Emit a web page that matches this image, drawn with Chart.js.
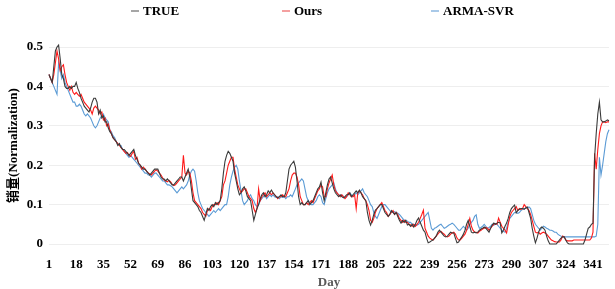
<!DOCTYPE html>
<html>
<head>
<meta charset="utf-8">
<script src="https://cdn.jsdelivr.net/npm/chart.js@4.4.1/dist/chart.umd.min.js"></script>
<style>
  html, body { margin: 0; padding: 0; background: #fff; }
  #wrap { width: 615px; height: 289px; }
</style>
</head>
<body>
<div id="wrap"><canvas id="salesChart"></canvas></div>
<script>
// x axis: day index, labels shown every 17 days
const dayTicks = [1, 18, 35, 52, 69, 86, 103, 120, 137, 154, 171, 188, 205, 222, 239, 256, 273, 290, 307, 324, 341];
const yTicks = [0, 0.1, 0.2, 0.3, 0.4, 0.5];

const trueVals = [
  0.43,0.42,0.41,0.45,0.49,0.50,0.505,0.47,0.43,0.42,
  0.40,0.395,0.395,0.40,0.395,0.40,0.40,0.41,0.395,0.385,
  0.37,0.36,0.35,0.345,0.34,0.335,0.345,0.36,0.37,0.37,
  0.36,0.33,0.34,0.32,0.325,0.31,0.31,0.295,0.285,0.28,
  0.27,0.265,0.26,0.25,0.255,0.245,0.24,0.24,0.235,0.23,
  0.225,0.23,0.235,0.24,0.225,0.215,0.205,0.20,0.195,0.19,
  0.19,0.185,0.18,0.175,0.18,0.185,0.19,0.19,0.19,0.18,
  0.17,0.165,0.165,0.16,0.165,0.16,0.155,0.15,0.15,0.155,
  0.16,0.165,0.17,0.17,0.16,0.17,0.18,0.19,0.17,0.14,
  0.11,0.105,0.10,0.095,0.085,0.08,0.07,0.06,0.075,0.09,
  0.085,0.095,0.10,0.095,0.105,0.10,0.105,0.11,0.14,0.18,
  0.21,0.225,0.235,0.23,0.22,0.21,0.18,0.16,0.14,0.125,
  0.13,0.14,0.145,0.135,0.12,0.115,0.11,0.085,0.06,0.075,
  0.09,0.10,0.115,0.125,0.13,0.12,0.125,0.135,0.13,0.137,
  0.13,0.125,0.12,0.117,0.12,0.125,0.12,0.12,0.13,0.16,
  0.19,0.20,0.205,0.21,0.195,0.16,0.12,0.10,0.105,0.10,
  0.10,0.105,0.11,0.10,0.105,0.11,0.12,0.13,0.14,0.145,
  0.157,0.13,0.11,0.13,0.15,0.165,0.17,0.155,0.14,0.13,
  0.125,0.12,0.125,0.12,0.117,0.12,0.125,0.125,0.13,0.12,
  0.125,0.13,0.135,0.13,0.137,0.13,0.12,0.115,0.11,0.08,
  0.06,0.048,0.06,0.075,0.086,0.09,0.095,0.10,0.10,0.09,
  0.08,0.075,0.07,0.075,0.085,0.08,0.075,0.08,0.07,0.06,
  0.053,0.06,0.055,0.06,0.048,0.05,0.045,0.05,0.043,0.05,
  0.06,0.066,0.055,0.045,0.035,0.03,0.015,0.003,0.005,0.008,
  0.01,0.015,0.02,0.03,0.035,0.03,0.025,0.02,0.018,0.02,
  0.025,0.03,0.028,0.028,0.015,0.003,0.005,0.012,0.018,0.025,
  0.035,0.05,0.06,0.045,0.03,0.028,0.03,0.028,0.03,0.035,
  0.038,0.04,0.043,0.04,0.035,0.03,0.04,0.048,0.053,0.05,
  0.053,0.055,0.053,0.028,0.035,0.045,0.053,0.065,0.08,0.09,
  0.095,0.099,0.079,0.085,0.088,0.09,0.09,0.088,0.092,0.094,
  0.08,0.066,0.04,0.02,0.003,0.015,0.03,0.04,0.043,0.04,
  0.035,0.02,0.008,0,0,0,0,0,0.005,0.01,
  0.015,0.018,0.018,0.01,0.003,0,0,0,0,0,
  0,0,0,0,0,0.01,0.025,0.04,0.043,0.05,
  0.053,0.22,0.28,0.33,0.36,0.315,0.31,0.31,0.312,0.315,0.313
];

const oursVals = [
  0.43,0.42,0.41,0.43,0.46,0.49,0.47,0.44,0.45,0.455,
  0.43,0.41,0.40,0.39,0.40,0.385,0.38,0.385,0.38,0.375,
  0.38,0.37,0.36,0.355,0.35,0.345,0.34,0.33,0.345,0.35,
  0.345,0.34,0.33,0.335,0.315,0.32,0.30,0.305,0.29,0.28,
  0.27,0.265,0.26,0.255,0.25,0.245,0.24,0.235,0.23,0.232,
  0.225,0.222,0.23,0.235,0.215,0.22,0.205,0.20,0.19,0.195,
  0.19,0.185,0.18,0.178,0.175,0.18,0.185,0.188,0.185,0.18,
  0.175,0.168,0.162,0.16,0.158,0.162,0.158,0.152,0.148,0.15,
  0.155,0.16,0.165,0.17,0.225,0.18,0.175,0.185,0.18,0.16,
  0.13,0.11,0.105,0.10,0.095,0.09,0.08,0.075,0.07,0.085,
  0.09,0.085,0.095,0.10,0.10,0.105,0.10,0.11,0.12,0.15,
  0.16,0.18,0.20,0.21,0.22,0.22,0.19,0.17,0.15,0.14,
  0.13,0.135,0.14,0.14,0.13,0.12,0.115,0.11,0.09,0.08,
  0.09,0.14,0.11,0.12,0.125,0.13,0.12,0.125,0.13,0.125,
  0.13,0.125,0.12,0.115,0.12,0.12,0.125,0.12,0.12,0.13,
  0.14,0.16,0.175,0.18,0.18,0.17,0.15,0.12,0.11,0.10,
  0.10,0.105,0.10,0.105,0.11,0.105,0.115,0.125,0.135,0.14,
  0.15,0.145,0.12,0.12,0.14,0.155,0.165,0.175,0.15,0.135,
  0.13,0.125,0.12,0.125,0.12,0.115,0.12,0.13,0.125,0.12,
  0.12,0.125,0.09,0.13,0.135,0.13,0.125,0.115,0.11,0.10,
  0.085,0.06,0.055,0.065,0.08,0.09,0.095,0.10,0.105,0.095,
  0.085,0.08,0.07,0.075,0.08,0.085,0.075,0.08,0.075,0.065,
  0.06,0.055,0.06,0.055,0.055,0.05,0.048,0.045,0.05,0.045,
  0.05,0.055,0.065,0.075,0.086,0.04,0.03,0.02,0.015,0.012,
  0.01,0.015,0.02,0.025,0.03,0.032,0.028,0.025,0.02,0.018,
  0.02,0.025,0.028,0.03,0.025,0.015,0.01,0.01,0.015,0.02,
  0.025,0.035,0.05,0.065,0.045,0.035,0.03,0.03,0.028,0.032,
  0.035,0.038,0.04,0.042,0.04,0.035,0.04,0.045,0.05,0.052,
  0.05,0.066,0.055,0.045,0.04,0.035,0.028,0.05,0.07,0.08,
  0.085,0.09,0.095,0.085,0.09,0.088,0.09,0.10,0.095,0.09,
  0.085,0.075,0.06,0.045,0.03,0.028,0.03,0.025,0.028,0.03,
  0.028,0.025,0.02,0.015,0.01,0.008,0.006,0.005,0.005,0.005,
  0.01,0.02,0.018,0.01,0.008,0.008,0.008,0.008,0.01,0.01,
  0.01,0.01,0.01,0.01,0.01,0.01,0.01,0.01,0.01,0.015,
  0.03,0.23,0.19,0.24,0.28,0.30,0.31,0.31,0.308,0.31,0.31
];

const armaVals = [
  0.43,0.42,0.41,0.40,0.39,0.38,0.46,0.44,0.42,0.43,
  0.41,0.40,0.39,0.38,0.37,0.36,0.36,0.35,0.35,0.355,
  0.35,0.34,0.33,0.325,0.33,0.325,0.32,0.31,0.30,0.295,
  0.30,0.31,0.32,0.325,0.33,0.32,0.315,0.31,0.29,0.285,
  0.275,0.27,0.26,0.255,0.25,0.25,0.24,0.235,0.23,0.225,
  0.22,0.225,0.22,0.215,0.21,0.205,0.20,0.195,0.19,0.185,
  0.18,0.18,0.175,0.175,0.17,0.175,0.18,0.18,0.175,0.17,
  0.165,0.16,0.16,0.155,0.15,0.15,0.148,0.145,0.14,0.135,
  0.13,0.135,0.14,0.145,0.14,0.145,0.15,0.16,0.175,0.185,
  0.19,0.185,0.16,0.13,0.11,0.10,0.09,0.085,0.08,0.075,
  0.07,0.075,0.08,0.085,0.08,0.085,0.09,0.085,0.09,0.095,
  0.10,0.10,0.12,0.15,0.17,0.185,0.195,0.20,0.19,0.16,
  0.135,0.11,0.10,0.105,0.11,0.12,0.125,0.115,0.11,0.10,
  0.095,0.10,0.11,0.115,0.12,0.125,0.115,0.12,0.125,0.12,
  0.125,0.12,0.118,0.12,0.115,0.12,0.118,0.12,0.115,0.12,
  0.12,0.125,0.12,0.13,0.14,0.15,0.155,0.16,0.165,0.16,
  0.14,0.12,0.11,0.105,0.10,0.10,0.105,0.11,0.12,0.125,
  0.12,0.105,0.10,0.115,0.13,0.14,0.145,0.15,0.155,0.14,
  0.13,0.125,0.12,0.125,0.12,0.118,0.12,0.125,0.13,0.125,
  0.12,0.125,0.13,0.125,0.13,0.135,0.14,0.13,0.125,0.12,
  0.11,0.10,0.095,0.08,0.07,0.065,0.075,0.085,0.095,0.10,
  0.10,0.095,0.09,0.085,0.08,0.08,0.082,0.08,0.078,0.075,
  0.07,0.065,0.06,0.06,0.058,0.055,0.055,0.05,0.05,0.048,
  0.048,0.05,0.055,0.06,0.065,0.07,0.075,0.08,0.06,0.04,
  0.035,0.04,0.042,0.045,0.048,0.05,0.045,0.04,0.042,0.045,
  0.048,0.05,0.053,0.05,0.045,0.04,0.035,0.035,0.04,0.045,
  0.04,0.035,0.04,0.05,0.055,0.06,0.07,0.074,0.05,0.04,
  0.042,0.045,0.05,0.045,0.04,0.042,0.045,0.05,0.048,0.05,
  0.05,0.045,0.04,0.035,0.032,0.03,0.04,0.055,0.065,0.07,
  0.075,0.08,0.08,0.078,0.08,0.085,0.088,0.09,0.09,0.092,
  0.094,0.09,0.075,0.06,0.05,0.045,0.04,0.035,0.04,0.045,
  0.043,0.04,0.038,0.035,0.035,0.033,0.03,0.03,0.025,0.022,
  0.02,0.018,0.018,0.018,0.018,0.018,0.018,0.018,0.018,0.018,
  0.018,0.018,0.018,0.018,0.018,0.018,0.018,0.018,0.018,0.018,
  0.018,0.018,0.02,0.05,0.22,0.175,0.20,0.23,0.26,0.28,0.29
];

const days = trueVals.map((v, i) => i + 1);

document.addEventListener("DOMContentLoaded", function () {
    const canvas = document.getElementById("salesChart");
    const ctx = canvas.getContext("2d");
    const serif = "'Liberation Serif', 'Times New Roman', 'Noto Sans CJK SC', serif";

    // spread-out legend drawn by hand (built-in one can't space items this wide)
    const legendStarts = [131, 282, 431];
    const wideLegend = {
        id: 'wideLegend',
        afterDraw(chart) {
            const c = chart.ctx;
            c.save();
            c.font = "bold 13px " + serif;
            c.textBaseline = 'middle';
            chart.data.datasets.forEach((ds, i) => {
                const x = legendStarts[i];
                c.fillStyle = ds.backgroundColor;
                c.fillRect(x, 10, 8, 2);
                c.fillStyle = '#000';
                c.fillText(ds.label, x + 12, 12);
            });
            c.restore();
        }
    };

    new Chart(ctx, {
        type: 'line',
        data: {
            labels: days,
            datasets: [
                { label: 'TRUE', data: trueVals, borderColor: '#3a3a3a', backgroundColor: '#a6a6a6', borderWidth: 1.1 },
                { label: 'Ours', data: oursVals, borderColor: '#ff1a1a', backgroundColor: '#f4a0a0', borderWidth: 1.1 },
                { label: 'ARMA-SVR', data: armaVals, borderColor: '#5b9bd5', backgroundColor: '#a9c9e8', borderWidth: 1.1 }
            ]
        },
        plugins: [wideLegend],
        options: {
            responsive: true,
            maintainAspectRatio: false,
            animation: false,
            layout: { padding: { top: 47, right: 6, left: 0, bottom: 0 } },
            elements: { point: { radius: 0 }, line: { tension: 0 } },
            datasets: { line: { clip: false } },
            plugins: {
                tooltip: { enabled: false },
                legend: { display: false }
            },
            scales: {
                x: {
                    type: 'linear',
                    min: 1,
                    max: days.length,
                    grid: { display: false },
                    border: { display: false },
                    afterBuildTicks: function (scale) {
                        scale.ticks = dayTicks.map(v => ({ value: v }));
                    },
                    afterFit: function (scale) { scale.height = 45; },
                    ticks: {
                        autoSkip: false,
                        maxRotation: 0,
                        padding: 5,
                        color: '#000',
                        font: { family: serif, size: 13, weight: 'bold' }
                    },
                    title: {
                        display: true,
                        text: 'Day',
                        color: '#595959',
                        padding: { top: 2, bottom: -1 },
                        font: { family: serif, size: 13, weight: 'bold' }
                    }
                },
                y: {
                    min: 0,
                    max: 0.5,
                    grid: { color: '#eeeeee', lineWidth: 1, drawTicks: false },
                    border: { display: false },
                    afterBuildTicks: function (scale) {
                        scale.ticks = yTicks.map(v => ({ value: v }));
                    },
                    afterFit: function (scale) { scale.width = 49; },
                    ticks: {
                        padding: 6,
                        color: '#000',
                        font: { family: serif, size: 13, weight: 'bold' }
                    },
                    title: {
                        display: true,
                        text: '销量(Normalization)',
                        color: '#000',
                        padding: { top: 6, bottom: 0 },
                        font: { family: serif, size: 13, weight: 'bold' }
                    }
                }
            }
        }
    });
});
</script>
</body>
</html>
